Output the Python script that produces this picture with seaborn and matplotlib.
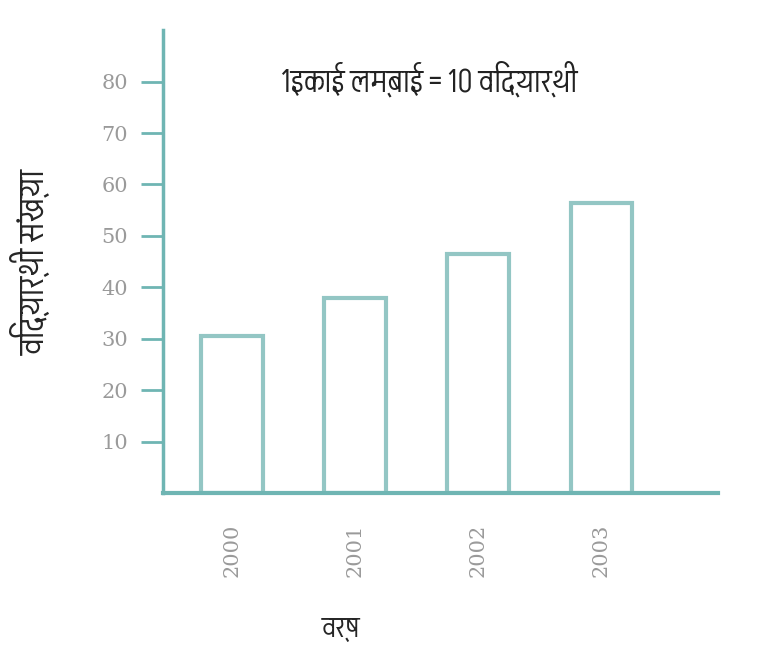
import matplotlib
matplotlib.use('Agg')
import matplotlib.pyplot as plt
from matplotlib import font_manager
import seaborn as sns
import pandas as pd

# data
years = ['2000', '2001', '2002', '2003']
students = [30.5, 38, 46.5, 56.5]
y_ticks = [10, 20, 30, 40, 50, 60, 70, 80]

title_text = '1इकाई लम्बाई = 10 विद्यार्थी'
y_label = 'विद्यार्थी संख्या'
x_label = 'वर्ष'


# find an installed font that has Devanagari glyphs, plain sans first
def find_devanagari_font():
    try:
        from fontTools.ttLib import TTFont
    except ImportError:
        return None
    found = []
    for f in font_manager.fontManager.ttflist:
        try:
            tt = TTFont(f.fname, fontNumber=0, lazy=True)
            cmap = tt.getBestCmap()
            if cmap and 0x0915 in cmap and 0x0940 in cmap:
                found.append((f.name, f.stretch))
        except Exception:
            continue
    if not found:
        return None

    def rank(item):
        name, stretch = item
        n = name.lower()
        return ('mono' in n, 'condensed' in n or 'narrow' in n,
                stretch not in ('normal', 500), 'serif' in n, name)

    return sorted(set(found), key=rank)[0][0]


sns.set_theme(style='white')
deva = find_devanagari_font()
families = ([deva] if deva else []) + ['DejaVu Sans']
plt.rcParams['font.family'] = families

axis_col = '#6fb5b3'
bar_col = '#93c6c4'
tick_col = '#9a9a9a'

df = pd.DataFrame({'year': years, 'students': students})

fig = plt.figure(figsize=(7.65, 6.55), dpi=100)
ax = fig.add_axes([0.213, 0.247, 0.726, 0.707])

sns.barplot(data=df, x='year', y='students', ax=ax, width=0.5,
            color='white', edgecolor=bar_col, linewidth=3)

ax.set_xlim(-0.56, 3.95)
ax.set_ylim(0, 90)
ax.set_yticks(y_ticks)
ax.set_yticklabels([str(t) for t in y_ticks], color=tick_col, fontsize=15,
                   family=['DejaVu Serif'])
ax.set_xticks(range(len(years)))
ax.set_xticklabels(years, rotation=90, color=tick_col, fontsize=15,
                   family=['DejaVu Serif'])
ax.tick_params(axis='y', length=16, width=2, color=axis_col, pad=9, left=True)
ax.tick_params(axis='x', length=0, pad=22)

sns.despine(ax=ax)
ax.spines['left'].set_color(axis_col)
ax.spines['bottom'].set_color(axis_col)
ax.spines['left'].set_linewidth(2.5)
ax.spines['bottom'].set_linewidth(3)

ax.set_ylabel(y_label, fontsize=26, fontweight='bold')
ax.yaxis.set_label_coords(-0.2, 0.5)
ax.set_xlabel(x_label, fontsize=22, fontweight='bold')
ax.xaxis.set_label_coords(0.32, -0.262)
ax.text(1.6, 80.5, title_text, ha='center', va='center', fontsize=24,
        fontweight='bold', color='#222222')

fig.savefig('out.png', dpi=100)
